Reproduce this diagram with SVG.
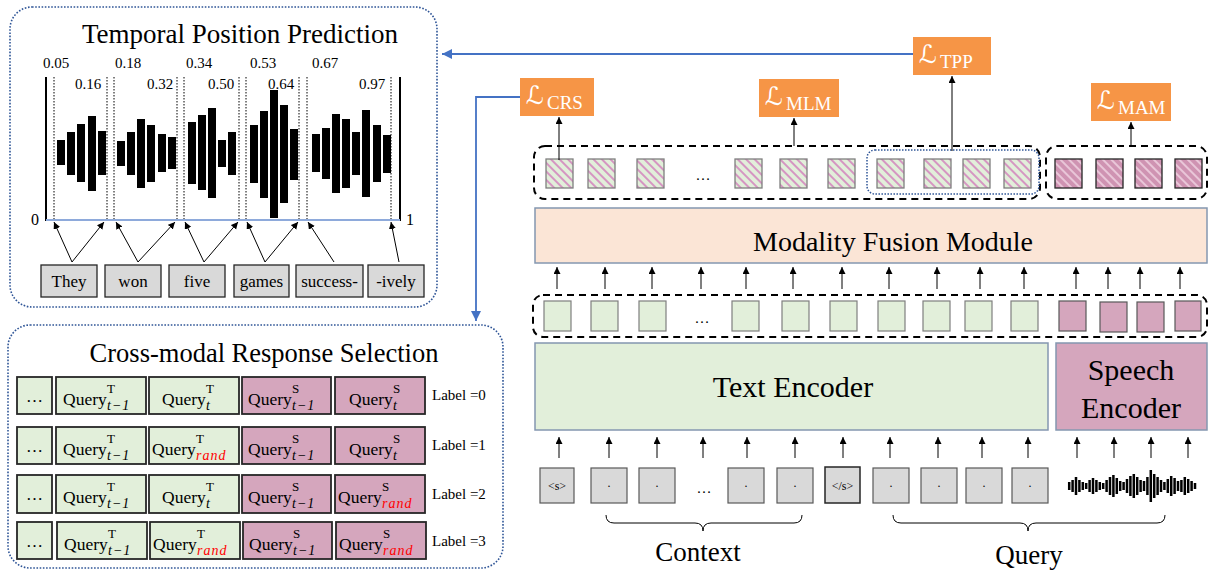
<svg xmlns="http://www.w3.org/2000/svg" width="1210" height="570" viewBox="0 0 1210 570">
<style>
text{font-family:"Liberation Serif","Times New Roman",serif;fill:#000}
.panel{fill:none;stroke:#2f5597;stroke-width:1.6;stroke-dasharray:1.6 1.6}
.word{fill:#d9d9d9;stroke:#262626;stroke-width:1.3}
.wt{font-size:17px;text-anchor:middle}
.num{font-size:15px}
.bar{fill:#000}
.dot{stroke:#000;stroke-width:1;stroke-dasharray:1.5 1.5}
.arr{stroke:#000;stroke-width:1;fill:none;marker-end:url(#ah)}
.g{fill:#e2efda;stroke:#262626;stroke-width:1.8}
.m{fill:#d5a6bd;stroke:#262626;stroke-width:1.8}
.q{font-size:17.5px}
.sup{font-size:13px}
.sub{font-size:14px;font-style:italic;letter-spacing:1px}
.red{fill:#ff0000}
.lab{font-size:15px}
.loss{fill:#f69546}
.L{font-family:"DejaVu Serif","DejaVu Sans",serif;font-size:25px;fill:#fff}
.ls{font-size:19px;fill:#fff}
.dash{fill:none;stroke:#000;stroke-width:2;stroke-dasharray:7 5}
.hg{fill:url(#hatchG);stroke:#7f7f7f;stroke-width:1.3}
.hm{fill:url(#hatchM);stroke:#262626;stroke-width:1.3}
.sg{fill:#e2efda;stroke:#7f7f7f;stroke-width:1.2}
.sm{fill:#d5a6bd;stroke:#595959;stroke-width:1.2}
.tok{fill:#d9d9d9;stroke:#595959;stroke-width:1.2}
.blue{stroke:#4472c4;stroke-width:1.8;fill:none;marker-end:url(#bh)}
.brace{fill:none;stroke:#000;stroke-width:1}
</style>
<defs>
<marker id="ah" markerUnits="userSpaceOnUse" markerWidth="8" markerHeight="8" refX="7" refY="3.5" orient="auto"><path d="M0,0 L7,3.5 L0,7 z" fill="#000"/></marker>
<marker id="bh" markerUnits="userSpaceOnUse" markerWidth="12" markerHeight="12" refX="10" refY="5" orient="auto"><path d="M0,0 L10,5 L0,10 z" fill="#4472c4"/></marker>
<pattern id="hatchG" patternUnits="userSpaceOnUse" width="6" height="6" patternTransform="rotate(-45)"><rect width="6" height="6" fill="#e2efda"/><rect width="2" height="6" fill="#d596c2"/></pattern>
<pattern id="hatchM" patternUnits="userSpaceOnUse" width="6" height="6" patternTransform="rotate(-45)"><rect width="6" height="6" fill="#cf93b2"/><rect width="2" height="6" fill="#e9c6d8"/></pattern>
</defs>

<g id="tpp-panel">
<rect class="panel" x="10" y="7" width="427" height="300" rx="22"/>
<text x="240" y="43" font-size="27" text-anchor="middle">Temporal Position Prediction</text>
<line x1="46" y1="77" x2="46" y2="221" stroke="#000" stroke-width="2"/>
<line x1="400" y1="77" x2="400" y2="221" stroke="#000" stroke-width="2"/>
<g>
<line class="dot" x1="54" y1="77" x2="54" y2="220"/>
<line class="dot" x1="107" y1="77" x2="107" y2="220"/>
<line class="dot" x1="114" y1="77" x2="114" y2="220"/>
<line class="dot" x1="177" y1="77" x2="177" y2="220"/>
<line class="dot" x1="184" y1="77" x2="184" y2="220"/>
<line class="dot" x1="239" y1="77" x2="239" y2="220"/>
<line class="dot" x1="246" y1="77" x2="246" y2="220"/>
<line class="dot" x1="299" y1="77" x2="299" y2="220"/>
<line class="dot" x1="307" y1="77" x2="307" y2="220"/>
<line class="dot" x1="391" y1="77" x2="391" y2="220"/>
</g>
<line x1="46" y1="220" x2="400" y2="220" stroke="#8eaadb" stroke-width="2"/>
<g class="bar">
<rect x="57" y="140" width="8" height="25"/><rect x="67" y="132" width="8" height="43"/><rect x="77" y="124" width="8" height="58"/><rect x="88" y="116" width="8" height="75"/><rect x="98" y="131" width="8" height="44"/>
<rect x="117" y="141" width="8" height="25"/><rect x="127" y="132" width="8" height="43"/><rect x="137" y="119" width="8" height="69"/><rect x="147" y="125" width="8" height="57"/><rect x="158" y="134" width="8" height="38"/><rect x="168" y="137" width="8" height="32"/>
<rect x="188" y="122" width="8" height="62"/><rect x="198" y="115" width="8" height="75"/><rect x="208" y="108" width="8" height="90"/><rect x="218" y="140" width="8" height="27"/><rect x="228" y="132" width="8" height="43"/>
<rect x="250" y="125" width="8" height="58"/><rect x="260" y="111" width="8" height="87"/><rect x="270" y="90" width="8" height="128"/><rect x="280" y="105" width="8" height="98"/><rect x="290" y="129" width="8" height="51"/>
<rect x="312" y="134" width="8" height="38"/><rect x="322" y="128" width="8" height="51"/><rect x="332" y="114" width="8" height="79"/><rect x="342" y="119" width="8" height="69"/><rect x="352" y="132" width="8" height="43"/><rect x="362" y="110" width="8" height="87"/><rect x="373" y="125" width="8" height="57"/><rect x="383" y="135" width="8" height="38"/>
</g>
<text class="num" x="43" y="68">0.05</text>
<text class="num" x="115" y="68">0.18</text>
<text class="num" x="186" y="68">0.34</text>
<text class="num" x="250" y="68">0.53</text>
<text class="num" x="312" y="68">0.67</text>
<text class="num" x="75" y="89">0.16</text>
<text class="num" x="147" y="89">0.32</text>
<text class="num" x="208" y="89">0.50</text>
<text class="num" x="268" y="89">0.64</text>
<text class="num" x="359" y="89">0.97</text>
<text x="31" y="225" font-size="16">0</text>
<text x="406" y="225" font-size="16">1</text>
</g>

<g id="tpp-words">
<rect class="word" x="41" y="265" width="56" height="32"/><text class="wt" x="69" y="287">They</text>
<rect class="word" x="105" y="265" width="56" height="32"/><text class="wt" x="133" y="287">won</text>
<rect class="word" x="169" y="265" width="56" height="32"/><text class="wt" x="197" y="287">five</text>
<rect class="word" x="234" y="265" width="55" height="32"/><text class="wt" x="261.5" y="287">games</text>
<rect class="word" x="296" y="265" width="67" height="32"/><text class="wt" x="329.5" y="287">success-</text>
<rect class="word" x="368" y="265" width="56" height="32"/><text class="wt" x="396" y="287">-ively</text>
</g>

<g id="crs-panel">
<rect class="panel" x="8" y="325" width="495" height="243" rx="22"/>
<text x="264" y="362" font-size="26.5" text-anchor="middle">Cross-modal Response Selection</text>
</g>

<g id="crs-row1">
<rect class="g" x="17" y="377" width="35" height="37"/><text x="34.5" y="402" font-size="17" text-anchor="middle">…</text>
<rect class="g" x="56" y="377" width="90" height="37"/><text class="q" x="63" y="405">Query</text><text class="sup" x="107" y="393">T</text><text class="sub" x="107" y="410">t−1</text>
<rect class="g" x="149" y="377" width="90" height="37"/><text class="q" x="162" y="405">Query</text><text class="sup" x="206" y="393">T</text><text class="sub" x="206" y="410">t</text>
<rect class="m" x="242" y="377" width="89" height="37"/><text class="q" x="248" y="405">Query</text><text class="sup" x="292" y="393">S</text><text class="sub" x="292" y="410">t−1</text>
<rect class="m" x="335" y="377" width="90" height="37"/><text class="q" x="349" y="405">Query</text><text class="sup" x="393" y="393">S</text><text class="sub" x="393" y="410">t</text>
<text class="lab" x="432" y="400">Label =0</text>
</g>
<g id="crs-row2">
<rect class="g" x="17" y="427" width="35" height="37"/><text x="34.5" y="452" font-size="17" text-anchor="middle">…</text>
<rect class="g" x="56" y="427" width="90" height="37"/><text class="q" x="63" y="455">Query</text><text class="sup" x="107" y="443">T</text><text class="sub" x="107" y="460">t−1</text>
<rect class="g" x="149" y="427" width="90" height="37"/><text class="q" x="152" y="455">Query</text><text class="sup" x="196" y="443">T</text><text class="sub red" x="196" y="460">rand</text>
<rect class="m" x="242" y="427" width="89" height="37"/><text class="q" x="248" y="455">Query</text><text class="sup" x="292" y="443">S</text><text class="sub" x="292" y="460">t−1</text>
<rect class="m" x="335" y="427" width="90" height="37"/><text class="q" x="349" y="455">Query</text><text class="sup" x="393" y="443">S</text><text class="sub" x="393" y="460">t</text>
<text class="lab" x="432" y="450">Label =1</text>
</g>
<g id="crs-row3">
<rect class="g" x="17" y="475" width="35" height="38"/><text x="34.5" y="500" font-size="17" text-anchor="middle">…</text>
<rect class="g" x="56" y="475" width="90" height="38"/><text class="q" x="63" y="503">Query</text><text class="sup" x="107" y="491">T</text><text class="sub" x="107" y="508">t−1</text>
<rect class="g" x="149" y="475" width="90" height="38"/><text class="q" x="162" y="503">Query</text><text class="sup" x="206" y="491">T</text><text class="sub" x="206" y="508">t</text>
<rect class="m" x="242" y="475" width="89" height="38"/><text class="q" x="248" y="503">Query</text><text class="sup" x="292" y="491">S</text><text class="sub" x="292" y="508">t−1</text>
<rect class="m" x="335" y="475" width="90" height="38"/><text class="q" x="338" y="503">Query</text><text class="sup" x="382" y="491">S</text><text class="sub red" x="382" y="508">rand</text>
<text class="lab" x="432" y="499">Label =2</text>
</g>
<g id="crs-row4">
<rect class="g" x="17" y="522" width="35" height="37"/><text x="34.5" y="547" font-size="17" text-anchor="middle">…</text>
<rect class="g" x="57" y="522" width="90" height="37"/><text class="q" x="64" y="550">Query</text><text class="sup" x="108" y="538">T</text><text class="sub" x="108" y="555">t−1</text>
<rect class="g" x="150" y="522" width="90" height="37"/><text class="q" x="153" y="550">Query</text><text class="sup" x="197" y="538">T</text><text class="sub red" x="197" y="555">rand</text>
<rect class="m" x="243" y="522" width="89" height="37"/><text class="q" x="249" y="550">Query</text><text class="sup" x="293" y="538">S</text><text class="sub" x="293" y="555">t−1</text>
<rect class="m" x="336" y="522" width="90" height="37"/><text class="q" x="339" y="550">Query</text><text class="sup" x="383" y="538">S</text><text class="sub red" x="383" y="555">rand</text>
<text class="lab" x="432" y="546">Label =3</text>
</g>

<g id="loss-crs"><rect class="loss" x="520" y="78" width="74" height="38"/><text class="L" x="526" y="104">ℒ</text><text class="ls" x="547" y="109">CRS</text></g>
<g id="loss-mlm"><rect class="loss" x="759" y="79" width="80" height="38"/><text class="L" x="765" y="105">ℒ</text><text class="ls" x="786" y="110">MLM</text></g>
<g id="loss-tpp"><rect class="loss" x="913" y="37" width="78" height="38"/><text class="L" x="919" y="63">ℒ</text><text class="ls" x="940" y="68">TPP</text></g>
<g id="loss-mam"><rect class="loss" x="1091" y="83" width="80" height="38"/><text class="L" x="1097" y="109">ℒ</text><text class="ls" x="1118" y="114">MAM</text></g>

<g id="output-tokens">
<rect class="dash" x="534" y="146" width="506" height="53" rx="11"/>
<rect class="dash" x="1046" y="146" width="161" height="53" rx="11"/>
<rect x="867" y="150" width="172" height="44" rx="8" fill="none" stroke="#2f5597" stroke-width="1.5" stroke-dasharray="1.5 1.5"/>
<rect class="hg" x="546" y="159" width="27" height="29"/>
<rect class="hg" x="588" y="159" width="27" height="29"/>
<rect class="hg" x="637" y="159" width="27" height="29"/>
<text x="703" y="180" font-size="15" text-anchor="middle" fill="#333">…</text>
<rect class="hg" x="735" y="159" width="27" height="29"/>
<rect class="hg" x="780" y="159" width="27" height="29"/>
<rect class="hg" x="828" y="159" width="27" height="29"/>
<rect class="hg" x="877" y="159" width="27" height="29"/>
<rect class="hg" x="924" y="159" width="27" height="29"/>
<rect class="hg" x="963" y="159" width="27" height="29"/>
<rect class="hg" x="1004" y="159" width="27" height="29"/>
<rect class="hm" x="1055" y="159" width="27" height="29"/>
<rect class="hm" x="1096" y="159" width="27" height="29"/>
<rect class="hm" x="1135" y="159" width="27" height="29"/>
<rect class="hm" x="1175" y="159" width="27" height="29"/>
</g>

<g id="fusion">
<rect x="535" y="208" width="672" height="55" fill="#fbe5d6" stroke="#8497b0" stroke-width="1.5"/>
<text x="893" y="251" font-size="28" text-anchor="middle">Modality Fusion Module</text>
</g>

<g id="encoded-tokens">
<rect class="dash" x="533" y="295" width="674" height="42" rx="10"/>
<rect class="sg" x="544" y="301" width="27" height="30"/>
<rect class="sg" x="591" y="301" width="27" height="30"/>
<rect class="sg" x="639" y="301" width="27" height="30"/>
<text x="702" y="323" font-size="15" text-anchor="middle" fill="#333">…</text>
<rect class="sg" x="732" y="301" width="27" height="30"/>
<rect class="sg" x="782" y="301" width="27" height="30"/>
<rect class="sg" x="830" y="301" width="27" height="30"/>
<rect class="sg" x="878" y="301" width="27" height="30"/>
<rect class="sg" x="923" y="301" width="27" height="30"/>
<rect class="sg" x="965" y="301" width="27" height="30"/>
<rect class="sg" x="1011" y="301" width="27" height="30"/>
<rect class="sm" x="1059" y="301" width="27" height="30"/>
<rect class="sm" x="1100" y="302" width="27" height="30"/>
<rect class="sm" x="1137" y="302" width="27" height="30"/>
<rect class="sm" x="1175" y="301" width="26" height="30"/>
</g>

<g id="text-encoder">
<rect x="535" y="343" width="513" height="87" fill="#e2efda" stroke="#8497b0" stroke-width="1.5"/>
<text x="793" y="397" font-size="30" text-anchor="middle">Text Encoder</text>
</g>
<g id="speech-encoder">
<rect x="1056" y="343" width="151" height="87" fill="#d5a6bd" stroke="#8497b0" stroke-width="1.5"/>
<text x="1131" y="380" font-size="30" text-anchor="middle">Speech</text>
<text x="1131" y="418" font-size="30" text-anchor="middle">Encoder</text>
</g>

<g id="input-tokens">
<rect class="tok" x="540" y="468" width="34" height="35"/><text x="557" y="490" font-size="12" text-anchor="middle">&lt;s&gt;</text>
<rect class="tok" x="591" y="468" width="36" height="35"/><text x="609" y="490" font-size="12" text-anchor="middle">·</text>
<rect class="tok" x="639" y="468" width="36" height="35"/><text x="657" y="490" font-size="12" text-anchor="middle">·</text>
<text x="704" y="493" font-size="15" text-anchor="middle" fill="#333">…</text>
<rect class="tok" x="728" y="468" width="36" height="35"/><text x="746" y="490" font-size="12" text-anchor="middle">·</text>
<rect class="tok" x="777" y="468" width="36" height="35"/><text x="795" y="490" font-size="12" text-anchor="middle">·</text>
<rect x="825" y="467" width="35" height="36" fill="#d9d9d9" stroke="#262626" stroke-width="1.5"/><text x="842.5" y="490" font-size="12" text-anchor="middle">&lt;/s&gt;</text>
<rect class="tok" x="873" y="468" width="36" height="35"/><text x="891" y="490" font-size="12" text-anchor="middle">·</text>
<rect class="tok" x="921" y="468" width="36" height="35"/><text x="939" y="490" font-size="12" text-anchor="middle">·</text>
<rect class="tok" x="966" y="468" width="36" height="35"/><text x="984" y="490" font-size="12" text-anchor="middle">·</text>
<rect class="tok" x="1012" y="468" width="36" height="35"/><text x="1030" y="490" font-size="12" text-anchor="middle">·</text>
</g>

<g id="waveform">
<path stroke="#000" stroke-width="2.5" fill="none" d="M1069.2,482v8M1072.6,480v12M1076,477v18M1079.4,480v12M1082.8,482v8M1086.2,483v6M1089.6,480v12M1093,478v16M1096.4,480v12M1099.8,482v8M1103.2,483v6M1106.6,480v12M1110,477v18M1113.4,475v22M1116.8,478v16M1120.2,481v10M1123.6,482v8M1127,479v14M1130.4,476v20M1133.8,474v24M1137.2,477v18M1140.6,480v12M1144,481v10M1147.4,477v18M1150.8,470v32M1154.2,474v24M1157.6,477v18M1161,480v12M1164.4,482v8M1167.8,479v14M1171.2,476v20M1174.6,478v16M1178,481v10M1181.4,480v12M1184.8,477v18M1188.2,479v14M1191.6,481v10M1195,483v6"/>
</g>

<g id="context-label">
<path class="brace" d="M606,515 Q606,523 614,523 L695,523 Q703,523 703,531 Q703,523 711,523 L794,523 Q802,523 802,515"/>
<text x="698" y="561" font-size="27" text-anchor="middle">Context</text>
</g>
<g id="query-label">
<path class="brace" d="M893,515 Q893,523 901,523 L1020,523 Q1028,523 1028,531 Q1028,523 1036,523 L1157,523 Q1165,523 1165,515"/>
<text x="1029" y="564" font-size="27" text-anchor="middle">Query</text>
</g>

<g id="connectors">
<line class="arr" x1="72" y1="262" x2="54" y2="222"/>
<line class="arr" x1="72" y1="262" x2="104" y2="222"/>
<line class="arr" x1="138" y1="262" x2="116" y2="222"/>
<line class="arr" x1="138" y1="262" x2="175" y2="222"/>
<line class="arr" x1="204" y1="262" x2="185" y2="222"/>
<line class="arr" x1="204" y1="262" x2="238" y2="222"/>
<line class="arr" x1="265" y1="262" x2="247" y2="222"/>
<line class="arr" x1="265" y1="262" x2="298" y2="222"/>
<line class="arr" x1="334" y1="262" x2="308" y2="222"/>
<line class="arr" x1="399" y1="262" x2="391" y2="222"/>

<line class="arr" x1="559" y1="160" x2="559" y2="117"/>
<line class="arr" x1="794" y1="146" x2="794" y2="118"/>
<line class="arr" x1="952" y1="151" x2="952" y2="76"/>
<line class="arr" x1="1131" y1="146" x2="1131" y2="122"/>

<line class="arr" x1="557" y1="289" x2="557" y2="267"/>
<line class="arr" x1="605" y1="289" x2="605" y2="267"/>
<line class="arr" x1="652" y1="289" x2="652" y2="267"/>
<line class="arr" x1="701" y1="289" x2="701" y2="267"/>
<line class="arr" x1="746" y1="289" x2="746" y2="267"/>
<line class="arr" x1="793" y1="289" x2="793" y2="267"/>
<line class="arr" x1="842" y1="289" x2="842" y2="267"/>
<line class="arr" x1="889" y1="289" x2="889" y2="267"/>
<line class="arr" x1="937" y1="289" x2="937" y2="267"/>
<line class="arr" x1="980" y1="289" x2="980" y2="267"/>
<line class="arr" x1="1024" y1="289" x2="1024" y2="267"/>
<line class="arr" x1="1076" y1="289" x2="1076" y2="267"/>
<line class="arr" x1="1108" y1="289" x2="1108" y2="267"/>
<line class="arr" x1="1140" y1="289" x2="1140" y2="267"/>
<line class="arr" x1="1180" y1="289" x2="1180" y2="267"/>

<line class="arr" x1="559" y1="458" x2="559" y2="437"/>
<line class="arr" x1="609" y1="458" x2="609" y2="437"/>
<line class="arr" x1="657" y1="458" x2="657" y2="437"/>
<line class="arr" x1="703" y1="458" x2="703" y2="437"/>
<line class="arr" x1="747" y1="458" x2="747" y2="437"/>
<line class="arr" x1="795" y1="458" x2="795" y2="437"/>
<line class="arr" x1="843" y1="458" x2="843" y2="437"/>
<line class="arr" x1="890" y1="458" x2="890" y2="437"/>
<line class="arr" x1="938" y1="458" x2="938" y2="437"/>
<line class="arr" x1="982" y1="458" x2="982" y2="437"/>
<line class="arr" x1="1028" y1="458" x2="1028" y2="437"/>
<line class="arr" x1="1077" y1="458" x2="1077" y2="437"/>
<line class="arr" x1="1114" y1="458" x2="1114" y2="437"/>
<line class="arr" x1="1151" y1="458" x2="1151" y2="437"/>
<line class="arr" x1="1188" y1="458" x2="1188" y2="437"/>

<line class="blue" x1="913" y1="54" x2="442" y2="54"/>
<polyline class="blue" points="520,97 476,97 476,321"/>
</g>
</svg>
